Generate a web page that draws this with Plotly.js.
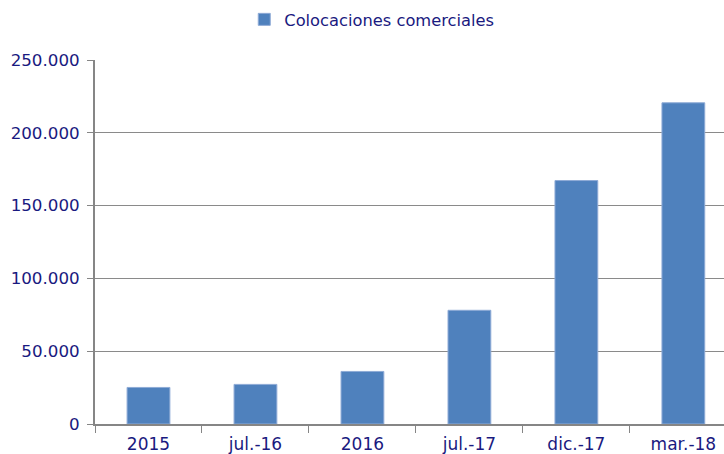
<!DOCTYPE html>
<html>
<head>
<meta charset="utf-8">
<script src="https://cdn.plot.ly/plotly-3.0.1.min.js"></script>
<style>html,body{margin:0;padding:0;background:#fff;}#chart{width:724px;height:454px;}</style>
</head>
<body>
<div id="chart"></div>
<script>
const categories = ["2015", "jul.-16", "2016", "jul.-17", "dic.-17", "mar.-18"];
const colocaciones = [25100, 27200, 36100, 78100, 167200, 220600];
const seriesName = "Colocaciones comerciales";
const yTicks = [0, 50000, 100000, 150000, 200000, 250000];

const textColor = "#1a1a80";
const fontFam = "DejaVu Sans, Verdana, sans-serif";

const data = [{
  type: "bar",
  x: categories,
  y: colocaciones,
  name: seriesName,
  width: 0.4,
  marker: {color: "#4f81bd", line: {color: "#8eaad6", width: 1}},
  hoverinfo: "x+y"
}];

const layout = {
  width: 724, height: 454,
  margin: {l: 95, r: 0, t: 60, b: 30},
  paper_bgcolor: "#fff", plot_bgcolor: "#fff",
  separators: ",.",
  font: {family: fontFam, size: 17, color: textColor},
  showlegend: true,
  legend: {orientation: "h", x: 0.44, xanchor: "center", xref: "paper", y: 0.995, yanchor: "top", yref: "container",
           font: {family: fontFam, size: 16.3, color: textColor}, itemwidth: 30, bgcolor: "rgba(0,0,0,0)"},
  xaxis: {
    type: "category",
    range: [-0.5, 5.38],
    showgrid: false,
    showline: true, linecolor: "#868686", linewidth: 2,
    ticks: "outside", tickson: "boundaries", ticklen: 7, tickcolor: "#868686", tickwidth: 1,
    ticklabelstandoff: 4,
    tickfont: {family: fontFam, size: 17, color: textColor},
    zeroline: false, fixedrange: true
  },
  yaxis: {
    range: [0, 250000],
    tickvals: yTicks,
    tickformat: ",d",
    showgrid: true, gridcolor: "#8a8a8a", gridwidth: 1,
    showline: true, linecolor: "#868686", linewidth: 2,
    ticks: "outside", ticklen: 6, tickcolor: "#868686", tickwidth: 1,
    ticklabelstandoff: 4,
    tickfont: {family: fontFam, size: 16.7, color: textColor},
    zeroline: false, fixedrange: true
  }
};

Plotly.newPlot("chart", data, layout, {displayModeBar: false, staticPlot: true});
</script>
</body>
</html>
